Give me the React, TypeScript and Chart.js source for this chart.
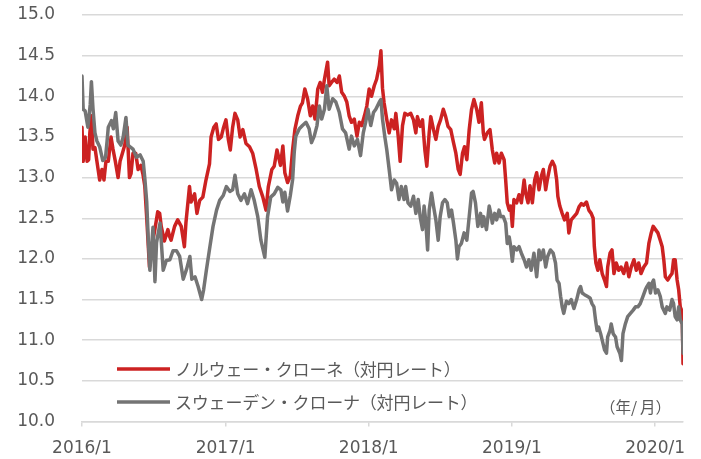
import React, { useEffect, useRef } from "react";
import { Chart, registerables } from "chart.js";

Chart.register(...registerables);

// ノルウェー・クローネ（対円レート）
const norwayDates = [
  "2016-01-01","2016-01-04","2016-01-09","2016-01-14","2016-01-18","2016-01-21","2016-01-25","2016-01-29",
  "2016-02-03","2016-02-08","2016-02-15","2016-02-21","2016-02-26","2016-03-02","2016-03-08","2016-03-15",
  "2016-03-20","2016-03-26","2016-04-02","2016-04-07","2016-04-13","2016-04-19","2016-04-25","2016-05-01",
  "2016-05-05","2016-05-10","2016-05-17","2016-05-23","2016-05-30","2016-06-04","2016-06-09","2016-06-14",
  "2016-06-21","2016-06-25","2016-07-04","2016-07-12","2016-07-17","2016-07-21","2016-07-29","2016-08-07",
  "2016-08-11","2016-08-15","2016-08-24","2016-09-01","2016-09-10","2016-09-18","2016-09-22","2016-10-01",
  "2016-10-05","2016-10-14","2016-10-20","2016-10-27","2016-11-04","2016-11-12","2016-11-21","2016-11-25",
  "2016-12-02","2016-12-08","2016-12-14","2016-12-21","2016-12-27","2017-01-02","2017-01-08","2017-01-13",
  "2017-01-19","2017-01-25","2017-02-01","2017-02-07","2017-02-14","2017-02-22","2017-03-03","2017-03-11",
  "2017-03-20","2017-03-28","2017-04-06","2017-04-14","2017-04-20","2017-04-29","2017-05-05","2017-05-12",
  "2017-05-21","2017-05-27","2017-06-01","2017-06-08","2017-06-15","2017-06-21","2017-06-27","2017-07-04",
  "2017-07-11","2017-07-16","2017-07-22","2017-07-29","2017-08-05","2017-08-11","2017-08-17","2017-08-24",
  "2017-08-30","2017-09-05","2017-09-10","2017-09-18","2017-09-22","2017-09-28","2017-10-05","2017-10-12",
  "2017-10-18","2017-10-24","2017-10-31","2017-11-06","2017-11-12","2017-11-18","2017-11-25","2017-12-02",
  "2017-12-08","2017-12-14","2017-12-21","2017-12-27","2018-01-02","2018-01-08","2018-01-15","2018-01-21",
  "2018-01-28","2018-02-01","2018-02-05","2018-02-09","2018-02-16","2018-02-22","2018-02-28","2018-03-07",
  "2018-03-11","2018-03-17","2018-03-22","2018-03-28","2018-04-03","2018-04-10","2018-04-18","2018-04-25",
  "2018-05-01","2018-05-05","2018-05-12","2018-05-18","2018-05-24","2018-05-29","2018-06-04","2018-06-08",
  "2018-06-15","2018-06-21","2018-06-27","2018-07-03","2018-07-10","2018-07-16","2018-07-22","2018-07-29",
  "2018-08-05","2018-08-11","2018-08-17","2018-08-22","2018-08-28","2018-09-02","2018-09-08","2018-09-14",
  "2018-09-20","2018-09-26","2018-10-03","2018-10-09","2018-10-15","2018-10-20","2018-10-23","2018-10-30",
  "2018-11-06","2018-11-12","2018-11-18","2018-11-23","2018-11-29","2018-12-05","2018-12-12","2018-12-16",
  "2018-12-20","2018-12-25","2018-12-29","2019-01-02","2019-01-06","2019-01-13","2019-01-19","2019-01-25",
  "2019-02-01","2019-02-05","2019-02-11","2019-02-16","2019-02-22","2019-02-28","2019-03-05","2019-03-11",
  "2019-03-17","2019-03-22","2019-03-28","2019-04-01","2019-04-08","2019-04-14","2019-04-20","2019-04-25",
  "2019-04-28","2019-05-03","2019-05-09","2019-05-15","2019-05-22","2019-05-26","2019-06-01","2019-06-08",
  "2019-06-15","2019-06-21","2019-06-27","2019-07-03","2019-07-10","2019-07-16","2019-07-22","2019-07-27",
  "2019-07-30","2019-08-03","2019-08-08","2019-08-13","2019-08-19","2019-08-25","2019-08-30","2019-09-02",
  "2019-09-08","2019-09-13","2019-09-18","2019-09-24","2019-09-30","2019-10-06","2019-10-13","2019-10-20",
  "2019-10-26","2019-11-01","2019-11-08","2019-11-14","2019-11-20","2019-11-26","2019-12-03","2019-12-10",
  "2019-12-16","2019-12-22","2019-12-27","2020-01-02","2020-01-08","2020-01-14","2020-01-19","2020-01-23",
  "2020-01-27","2020-02-02","2020-02-07","2020-02-13","2020-02-17","2020-02-21","2020-02-26","2020-03-01",
  "2020-03-05","2020-03-10","2020-03-12",
];
const norwayRates = [
  13.62,13.2,13.5,13.2,13.22,13.55,13.76,13.35,
  13.37,13.2,12.97,13.1,12.97,13.2,13.2,13.5,
  13.35,13.2,13.0,13.2,13.3,13.4,13.62,13.0,
  13.05,13.3,13.3,13.1,13.15,13.05,12.9,12.5,
  11.9,12.1,12.34,12.58,12.56,12.4,12.22,12.36,
  12.28,12.23,12.4,12.48,12.4,12.15,12.45,12.89,
  12.7,12.8,12.56,12.72,12.76,12.97,13.17,13.5,
  13.62,13.66,13.47,13.5,13.62,13.71,13.47,13.34,
  13.62,13.79,13.71,13.5,13.59,13.42,13.38,13.3,
  13.1,12.89,12.76,12.6,12.89,13.1,13.14,13.34,
  13.15,13.39,13.06,12.94,13.02,13.35,13.6,13.76,
  13.88,13.92,14.09,13.97,13.76,13.88,13.72,14.09,
  14.17,14.05,14.21,14.42,14.13,14.17,14.21,14.17,
  14.25,14.05,14.0,13.93,13.76,13.68,13.72,13.51,
  13.68,13.64,13.76,13.88,14.09,14.0,14.13,14.21,
  14.38,14.56,14.1,13.92,13.71,13.55,13.71,13.6,
  13.79,13.51,13.2,13.64,13.79,13.77,13.79,13.71,
  13.55,13.75,13.63,13.71,13.34,13.14,13.55,13.75,
  13.59,13.47,13.63,13.71,13.84,13.75,13.63,13.59,
  13.43,13.3,13.1,13.04,13.3,13.38,13.22,13.59,
  13.84,13.96,13.84,13.68,13.92,13.55,13.47,13.55,
  13.59,13.34,13.18,13.3,13.18,13.3,13.22,12.97,
  12.69,12.6,12.65,12.4,12.73,12.69,12.79,12.69,
  12.97,12.81,12.69,12.9,12.69,12.97,13.06,12.85,
  13.02,13.1,12.85,12.97,13.14,13.2,13.14,12.97,
  12.77,12.65,12.56,12.48,12.56,12.32,12.48,12.52,
  12.56,12.64,12.68,12.66,12.7,12.6,12.56,12.5,
  12.15,11.95,11.86,11.99,11.82,11.74,11.66,11.9,
  12.07,12.11,11.82,11.95,11.86,11.9,11.82,11.95,
  11.78,11.9,11.99,11.86,11.95,11.82,11.9,11.95,
  12.19,12.32,12.4,12.36,12.32,12.23,12.15,11.99,
  11.78,11.74,11.78,11.82,11.99,11.99,11.74,11.62,
  11.41,11.35,10.71,
];

// スウェーデン・クローナ（対円レート）
const swedenDates = [
  "2016-01-01","2016-01-04","2016-01-09","2016-01-16","2016-01-22","2016-01-25","2016-01-29","2016-02-03",
  "2016-02-08","2016-02-15","2016-02-23","2016-03-01","2016-03-05","2016-03-08","2016-03-16","2016-03-21",
  "2016-03-27","2016-04-02","2016-04-09","2016-04-15","2016-04-22","2016-04-27","2016-05-02","2016-05-10",
  "2016-05-19","2016-05-28","2016-06-05","2016-06-09","2016-06-14","2016-06-18","2016-06-22","2016-06-30",
  "2016-07-05","2016-07-09","2016-07-18","2016-07-26","2016-08-03","2016-08-12","2016-08-20","2016-08-29",
  "2016-09-06","2016-09-15","2016-09-24","2016-10-02","2016-10-07","2016-10-15","2016-10-23","2016-11-01",
  "2016-11-06","2016-11-13","2016-11-22","2016-11-30","2016-12-09","2016-12-17","2016-12-26","2017-01-03",
  "2017-01-12","2017-01-19","2017-01-25","2017-02-01","2017-02-09","2017-02-18","2017-02-26","2017-03-07",
  "2017-03-15","2017-03-24","2017-04-01","2017-04-11","2017-04-18","2017-04-26","2017-05-05","2017-05-14",
  "2017-05-22","2017-05-27","2017-06-01","2017-06-08","2017-06-15","2017-06-21","2017-06-25","2017-06-29",
  "2017-07-08","2017-07-16","2017-07-25","2017-08-02","2017-08-08","2017-08-15","2017-08-22","2017-08-28",
  "2017-09-03","2017-09-10","2017-09-16","2017-09-22","2017-10-01","2017-10-09","2017-10-18","2017-10-26",
  "2017-11-03","2017-11-12","2017-11-18","2017-11-25","2017-12-03","2017-12-11","2017-12-18","2017-12-24",
  "2017-12-30","2018-01-06","2018-01-13","2018-01-19","2018-01-28","2018-02-01","2018-02-05","2018-02-11",
  "2018-02-16","2018-02-22","2018-02-28","2018-03-07","2018-03-13","2018-03-19","2018-03-25","2018-04-01",
  "2018-04-05","2018-04-11","2018-04-18","2018-04-25","2018-05-01","2018-05-07","2018-05-12","2018-05-18",
  "2018-05-22","2018-05-26","2018-05-31","2018-06-04","2018-06-10","2018-06-15","2018-06-21","2018-06-27",
  "2018-07-02","2018-07-08","2018-07-14","2018-07-20","2018-07-25","2018-07-31","2018-08-05","2018-08-11",
  "2018-08-15","2018-08-19","2018-08-25","2018-09-01","2018-09-08","2018-09-14","2018-09-20","2018-09-24",
  "2018-09-30","2018-10-06","2018-10-13","2018-10-17","2018-10-21","2018-10-28","2018-11-04","2018-11-08",
  "2018-11-12","2018-11-18","2018-11-23","2018-11-29","2018-12-03","2018-12-10","2018-12-16","2018-12-20",
  "2018-12-25","2018-12-29","2019-01-02","2019-01-06","2019-01-13","2019-01-19","2019-01-25","2019-02-01",
  "2019-02-07","2019-02-13","2019-02-19","2019-02-26","2019-03-05","2019-03-11","2019-03-15","2019-03-22",
  "2019-03-28","2019-04-02","2019-04-09","2019-04-16","2019-04-22","2019-04-26","2019-05-01","2019-05-05",
  "2019-05-09","2019-05-13","2019-05-20","2019-05-26","2019-06-01","2019-06-08","2019-06-15","2019-06-21",
  "2019-06-25","2019-06-29","2019-07-05","2019-07-12","2019-07-19","2019-07-24","2019-07-29","2019-08-02",
  "2019-08-06","2019-08-10","2019-08-15","2019-08-19","2019-08-25","2019-08-30","2019-09-02","2019-09-08",
  "2019-09-11","2019-09-16","2019-09-22","2019-09-26","2019-10-03","2019-10-07","2019-10-11","2019-10-17",
  "2019-10-23","2019-10-30","2019-11-06","2019-11-12","2019-11-18","2019-11-24","2019-12-01","2019-12-07",
  "2019-12-11","2019-12-16","2019-12-20","2019-12-24","2019-12-28","2020-01-02","2020-01-08","2020-01-14",
  "2020-01-19","2020-01-23","2020-01-27","2020-01-31","2020-02-07","2020-02-13","2020-02-17","2020-02-21",
  "2020-02-26","2020-03-01","2020-03-05","2020-03-10","2020-03-12",
];
const swedenRates = [
  14.25,13.84,13.82,13.62,13.9,14.18,13.85,13.55,
  13.45,13.38,13.21,13.25,13.45,13.62,13.7,13.6,
  13.8,13.45,13.4,13.5,13.74,13.4,13.38,13.35,
  13.25,13.28,13.2,13.0,12.7,12.23,11.86,12.39,
  11.72,12.2,12.44,11.86,11.98,11.99,12.1,12.1,
  12.03,11.75,11.88,12.03,11.75,11.78,11.66,11.5,
  11.62,11.86,12.15,12.4,12.6,12.72,12.78,12.89,
  12.83,12.85,13.03,12.8,12.72,12.8,12.68,12.85,
  12.72,12.52,12.23,12.02,12.52,12.76,12.8,12.88,
  12.85,12.7,12.82,12.59,12.78,12.98,13.31,13.51,
  13.6,13.64,13.68,13.6,13.43,13.51,13.64,13.88,
  13.72,13.84,14.13,13.84,13.97,13.93,13.8,13.6,
  13.55,13.35,13.51,13.39,13.47,13.27,13.55,13.68,
  13.84,13.64,13.8,13.84,13.93,13.96,13.72,13.5,
  13.34,13.1,12.85,12.97,12.93,12.73,12.89,12.73,
  12.89,12.69,12.65,12.77,12.56,12.73,12.52,12.36,
  12.65,12.48,12.11,12.6,12.81,12.65,12.48,12.23,
  12.52,12.69,12.73,12.69,12.52,12.6,12.44,12.23,
  12.0,12.15,12.19,12.32,12.23,12.52,12.81,12.83,
  12.69,12.4,12.56,12.4,12.52,12.36,12.65,12.56,
  12.44,12.56,12.48,12.6,12.52,12.52,12.44,12.19,
  12.27,12.15,11.97,12.15,12.11,12.15,12.07,11.99,
  11.9,11.99,11.86,12.07,11.78,12.11,11.99,12.11,
  11.9,12.03,12.11,12.07,11.95,11.74,11.7,11.54,
  11.41,11.33,11.48,11.45,11.5,11.39,11.5,11.62,
  11.66,11.58,11.56,11.54,11.52,11.45,11.41,11.25,
  11.12,11.16,11.08,11.0,10.88,10.84,11.04,11.12,
  11.2,11.08,11.04,10.92,10.84,10.75,11.08,11.2,
  11.29,11.33,11.37,11.41,11.41,11.45,11.54,11.62,
  11.66,11.7,11.58,11.7,11.74,11.58,11.62,11.54,
  11.41,11.37,11.33,11.41,11.37,11.5,11.45,11.29,
  11.25,11.41,11.25,11.2,10.84,
];

const tickDates = ["2016-01-01", "2017-01-01", "2018-01-01", "2019-01-01", "2020-01-01"];
const tickLabels = ["2016/1", "2017/1", "2018/1", "2019/1", "2020/1"];
const legendLabels = ["ノルウェー・クローネ（対円レート）", "スウェーデン・クローナ（対円レート）"];
const unitLabel = "（年/月）";
const yMin = 10;
const yMax = 15;
const yStep = 0.5;

const RED = "#cc2222";
const GRAY = "#747474";
const TEXT = "#595959";
const GRID = "#d9d9d9";

const ORIGIN = Date.UTC(2016, 0, 1);
function dayOf(s: string): number {
  const [y, m, d] = s.split("-").map(Number);
  return Math.round((Date.UTC(y, m - 1, d) - ORIGIN) / 86400000);
}

const tickDays = tickDates.map(dayOf);

function drawMonospaced(ctx: CanvasRenderingContext2D, text: string, x: number, y: number, advance: number) {
  const chars = Array.from(text);
  chars.forEach((ch, i) => {
    ctx.fillText(ch, x + i * advance, y);
  });
}

const overlayPlugin = {
  id: "overlay",
  afterDraw(chart: any) {
    const ctx = chart.ctx as CanvasRenderingContext2D;
    ctx.save();
    const rows = [
      { color: RED, label: legendLabels[0], y: 369 },
      { color: GRAY, label: legendLabels[1], y: 402 },
    ];
    ctx.font = '17px "Noto Sans CJK JP"';
    ctx.textBaseline = "middle";
    ctx.textAlign = "left";
    for (const r of rows) {
      ctx.strokeStyle = r.color;
      ctx.lineWidth = 3.5;
      ctx.lineCap = "butt";
      ctx.beginPath();
      ctx.moveTo(117, r.y);
      ctx.lineTo(170, r.y);
      ctx.stroke();
      ctx.fillStyle = TEXT;
      drawMonospaced(ctx, r.label, 175, r.y + 1, 16.8);
    }
    ctx.font = '15.5px "Noto Sans CJK JP"';
    ctx.textAlign = "left";
    const unitChars = Array.from(unitLabel);
    const adv = [15.5, 15.5, 9, 15.5, 15.5];
    let ux = 600;
    unitChars.forEach((ch, i) => {
      ctx.fillText(ch, ux, 407);
      ux += adv[i];
    });
    ctx.restore();
  },
};

export default function App() {
  const ref = useRef<HTMLCanvasElement | null>(null);
  useEffect(() => {
    if (!ref.current) return;
    const norwayData = norwayDates.map((d, i) => ({ x: dayOf(d), y: norwayRates[i] }));
    const swedenData = swedenDates.map((d, i) => ({ x: dayOf(d), y: swedenRates[i] }));
    const xMax = Math.max(...norwayData.map((p) => p.x), ...swedenData.map((p) => p.x));
    const chart = new Chart(ref.current, {
      type: "line",
      data: {
        datasets: [
          {
            label: legendLabels[0],
            data: norwayData,
            borderColor: RED,
            backgroundColor: RED,
            borderWidth: 3.5,
            pointRadius: 0,
            tension: 0,
            borderJoinStyle: "round",
            borderCapStyle: "round",
            order: 2,
          },
          {
            label: legendLabels[1],
            data: swedenData,
            borderColor: GRAY,
            backgroundColor: GRAY,
            borderWidth: 3.5,
            pointRadius: 0,
            tension: 0,
            borderJoinStyle: "round",
            borderCapStyle: "round",
            order: 1,
          },
        ],
      },
      options: {
        responsive: false,
        animation: false,
        layout: { padding: { top: 15, right: 18, bottom: 0, left: 0 } },
        plugins: { legend: { display: false }, tooltip: { enabled: false } },
        scales: {
          x: {
            type: "linear",
            min: 0,
            max: xMax,
            afterBuildTicks: (scale: any) => {
              scale.ticks = tickDays.map((v) => ({ value: v }));
            },
            afterFit: (scale: any) => {
              scale.height = 37.5;
              scale.paddingLeft = 0;
              scale.paddingRight = 0;
            },
            ticks: {
              autoSkip: false,
              maxRotation: 0,
              padding: 12,
              color: TEXT,
              font: { family: '"DejaVu Sans"', size: 17 },
              callback: (v: any) => {
                const i = tickDays.indexOf(Number(v));
                return i >= 0 ? tickLabels[i] : "";
              },
            },
            grid: { drawOnChartArea: false, drawTicks: true, tickLength: 5, color: GRID, lineWidth: 1.5 },
            border: { display: true, color: GRID, width: 1.5 },
          },
          y: {
            min: yMin,
            max: yMax,
            afterFit: (scale: any) => {
              scale.width = 82;
              scale.paddingTop = 0;
              scale.paddingBottom = 0;
            },
            ticks: {
              stepSize: yStep,
              padding: 27,
              color: TEXT,
              font: { family: '"DejaVu Sans"', size: 17 },
              callback: (v: any) => Number(v).toFixed(1),
            },
            grid: { color: GRID, lineWidth: 1.5, drawTicks: false },
            border: { display: false },
          },
        },
      },
      plugins: [overlayPlugin],
    } as any);
    return () => chart.destroy();
  }, []);
  return (
    <div style={{ position: "fixed", left: 0, top: 0, width: 701, height: 459, background: "#fff" }}>
      <canvas ref={ref} width={701} height={459} style={{ display: "block" }} />
    </div>
  );
}
